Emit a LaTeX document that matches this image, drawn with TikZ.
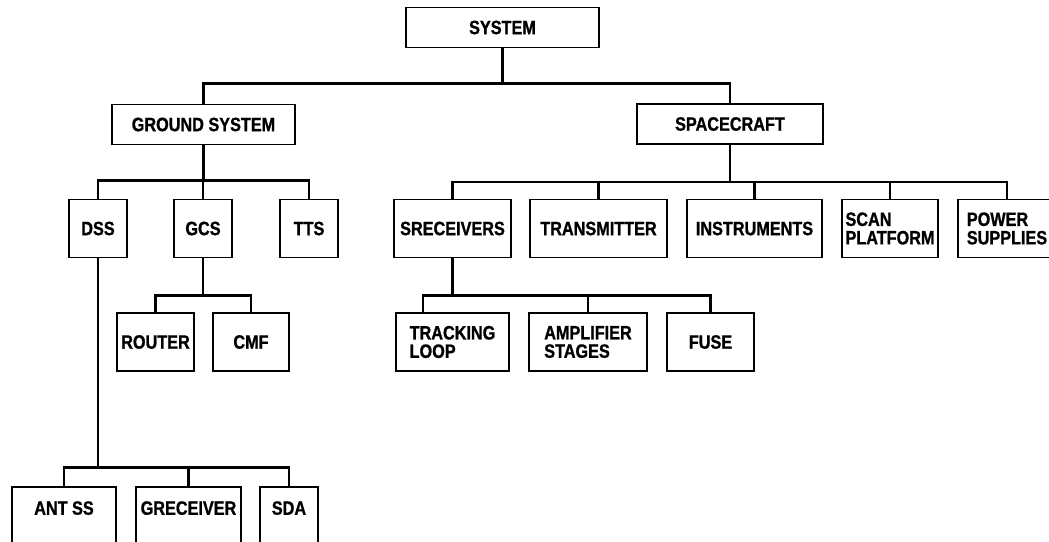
\documentclass[tikz,border=0pt]{standalone}
\usepackage{fontspec}
\newfontfamily\chartfont[FakeStretch=0.84, FakeBold=1]{Liberation Sans Bold}
\usepackage{tikz}
\usetikzlibrary{positioning}

\begin{document}
\begin{tikzpicture}[
  node distance=0.4cm,
  box/.style={draw, line width=1.1pt, outer sep=0pt, minimum height=1.16cm, inner xsep=1pt, align=left,
    font=\chartfont\fontsize{11}{10.5}\selectfont},
  head/.style={box, minimum height=0.8cm},
  low/.style={text depth=0.32cm},
  link/.style={line width=1.6pt}
]
  \useasboundingbox (0,0) rectangle (20.98,-10.82);
  \node[head, minimum width=3.86cm] (sys) at (10.05,-0.55) {SYSTEM};
  \node[head, minimum width=3.66cm] (gnd) at (4.07,-2.49) {GROUND SYSTEM};
  \node[head, minimum width=3.72cm] (craft) at (14.6,-2.48) {SPACECRAFT};
  \node[box, minimum width=1.16cm] (dss) at (1.96,-4.57) {DSS};
  \node[box, minimum width=1.16cm, right=0.94cm of dss] (gcs) {GCS};
  \node[box, minimum width=1.16cm, right=0.96cm of gcs] (tts) {TTS};
  \node[box, minimum width=2.34cm] (srcv) at (9.05,-4.57) {SRECEIVERS};
  \node[box, minimum width=2.74cm, right=0.38cm of srcv] (xmit) {TRANSMITTER};
  \node[box, minimum width=2.70cm, right=of xmit] (inst) {INSTRUMENTS};
  \node[box, minimum width=1.92cm, right=of inst] (scan) {SCAN\\PLATFORM};
  \node[box, minimum width=1.96cm, right=of scan] (power) {POWER\\SUPPLIES};
  \node[box, minimum width=1.54cm] (router) at (3.11,-6.84) {ROUTER};
  \node[box, minimum width=1.52cm, right=0.38cm of router] (cmf) {CMF};
  \node[box, minimum width=2.26cm] (track) at (9.05,-6.84) {TRACKING\\LOOP};
  \node[box, minimum width=2.36cm, right=of track] (amp) {AMPLIFIER\\STAGES};
  \node[box, minimum width=1.74cm, right=of amp] (fuse) {FUSE};
  \node[box, low, minimum width=2.08cm] (ant) at (1.28,-10.32) {ANT SS};
  \node[box, low, minimum width=2.10cm, right=of ant] (grcv) {GRECEIVER};
  \node[box, low, minimum width=1.16cm, right=0.38cm of grcv] (sda) {SDA};
  % tree links
  \draw[link] (sys.south) -- ++(0,-0.72) coordinate (j1);
  \draw[link] (gnd.north) |- (j1) -| (craft.north);
  \draw[link] (gnd.south) -- ++(0,-0.72) coordinate (j2);
  \draw[link] (dss.north) |- (j2) -| (tts.north);
  \draw[link] (gcs.north) -- (gcs.north |- j2);
  \draw[link] (craft.south) -- ++(0,-0.76) coordinate (j3);
  \draw[link] (srcv.north) |- (j3) -| (power.north);
  \foreach \n in {xmit,inst,scan}
    \draw[link] (\n.north) -- (\n.north |- j3);
  \draw[link] (gcs.south) -- ++(0,-0.76) coordinate (j4);
  \draw[link] (router.north) |- (j4) -| (cmf.north);
  \draw[link] (srcv.south) -- ++(0,-0.76) coordinate (j5);
  \draw[link] ([xshift=-0.59cm]track.north) |- (j5) -| (fuse.north);
  \draw[link] (amp.north) -- (amp.north |- j5);
  \draw[link] (dss.south) -- ++(0,-4.2) coordinate (j6);
  \draw[link] (ant.north) |- (j6) -| (sda.north);
  \draw[link] (grcv.north) -- (grcv.north |- j6);
\end{tikzpicture}
\end{document}
